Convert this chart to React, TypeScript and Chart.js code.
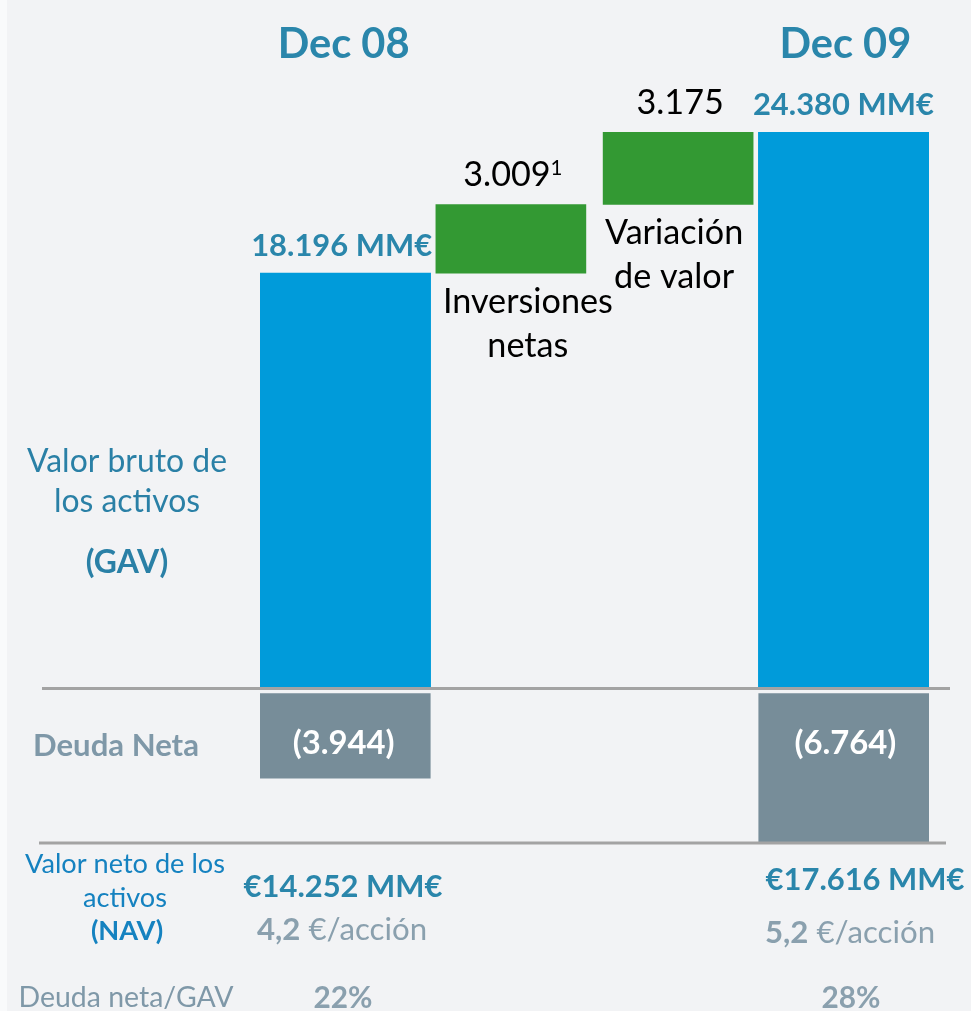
import React, { useEffect, useRef } from "react";
import { Chart, registerables } from "chart.js";

Chart.register(...registerables);

// ---------- data ----------
const categories: (string | string[])[] = ["Dec 08", ["Inversiones", "netas"], ["Variación", "de valor"], "Dec 09"];
const gavValues: (number | null)[] = [18196, null, null, 24380];
const changeValues: (number | null)[] = [null, 3009, 3175, null];
const changeFootnotes: string[] = ["", "1", "", ""];
const debtValues: (number | null)[] = [-3944, null, null, -6764];
const navPerShare: string[] = ["4,2", "5,2"];
const gavRowLabel: string[] = ["Valor bruto de", "los activos", "(GAV)"];
const debtRowLabel = "Deuda Neta";
const navRowLabel: string[] = ["Valor neto de los", "activos", "(NAV)"];
const ratioRowLabel = "Deuda neta/GAV";
const unit = "MM€";

// ---------- derived ----------
const changeRanges: ([number, number] | null)[] = (() => {
  let run = gavValues[0] as number;
  return changeValues.map((v) => {
    if (v == null) return null;
    const r: [number, number] = [run, run + v];
    run += v;
    return r;
  });
})();
const summaryCols = [0, 3];
const navValues = summaryCols.map((i) => (gavValues[i] as number) + (debtValues[i] as number));
const ratioValues = summaryCols.map((i) => Math.round((-(debtValues[i] as number) / (gavValues[i] as number)) * 100));
const yMin = Math.min(...(debtValues.filter((v) => v != null) as number[]));
const yMax = Math.max(...(gavValues.filter((v) => v != null) as number[]));

// ---------- style ----------
const FAMILY = "Lato, 'Noto Sans', sans-serif";
const BG = "#F2F3F5";
const BLUE = "#009BDA";
const GREEN = "#339933";
const GREY = "#778D99";
const TITLE = "#2A86AB";
const LEFT_BLUE = "#2A80A6";
const NAV_BLUE = "#1582C0";
const GREY_TEXT = "#7F98A8";
const GREY_LIGHT = "#8AA0AE";
const LINE = "#A3A3A3";

function fmt(n: number): string {
  return String(Math.abs(n)).replace(/\B(?=(\d{3})+(?!\d))/g, ".");
}

function fit(ctx: CanvasRenderingContext2D, s: string, width: number, weight: string): number {
  ctx.font = `${weight} 100px ${FAMILY}`;
  return (100 * width) / ctx.measureText(s).width;
}

function txt(ctx: CanvasRenderingContext2D, s: string, x: number, y: number, size: number, weight: string, color: string, align: CanvasTextAlign = "center") {
  ctx.font = `${weight} ${size}px ${FAMILY}`;
  ctx.fillStyle = color;
  ctx.textAlign = align;
  ctx.textBaseline = "alphabetic";
  ctx.fillText(s, x, y);
}

const bgPlugin = {
  id: "bgPlugin",
  beforeDraw(chart: any) {
    const ctx = chart.ctx as CanvasRenderingContext2D;
    ctx.save();
    ctx.fillStyle = BG;
    ctx.fillRect(0, 0, chart.width, chart.height);
    ctx.fillStyle = "#F9FAFB";
    ctx.fillRect(0, 0, 7, chart.height);
    ctx.restore();
  },
};

const annotatePlugin = {
  id: "annotatePlugin",
  afterDatasetsDraw(chart: any) {
    const ctx = chart.ctx as CanvasRenderingContext2D;
    const ys = chart.scales.y;
    const area = chart.chartArea;
    const y0 = ys.getPixelForValue(0);
    ctx.save();

    // reference lines
    ctx.strokeStyle = LINE;
    ctx.lineWidth = 3;
    ctx.beginPath();
    ctx.moveTo(42, y0);
    ctx.lineTo(950, y0);
    ctx.moveTo(39, area.bottom);
    ctx.lineTo(946, area.bottom);
    ctx.stroke();

    const sTitle = fit(ctx, "Dec 08", 132, "bold");
    const sValue = fit(ctx, "18.196 MM€", 181, "bold");
    const sBlack = fit(ctx, "Inversiones", 170, "normal");
    const sLeft = fit(ctx, gavRowLabel[0], 200, "normal");
    const sDeuda = fit(ctx, debtRowLabel, 166, "bold");
    const sDebtVal = fit(ctx, "(3.944)", 102, "bold");
    const sNavLeft = fit(ctx, navRowLabel[0], 200, "normal");
    const sShare = fit(ctx, "4,2 €/acción", 170, "normal");
    const sRatio = fit(ctx, ratioRowLabel, 215, "normal");
    const sPct = fit(ctx, "22%", 59, "bold");

    const gavMeta = chart.getDatasetMeta(0);
    const chgMeta = chart.getDatasetMeta(1);
    const debtMeta = chart.getDatasetMeta(2);

    // titles and GAV labels
    gavValues.forEach((v, i) => {
      if (v == null) return;
      const el = gavMeta.data[i];
      txt(ctx, String(categories[i]), el.x, 58, sTitle, "bold", TITLE);
      txt(ctx, `${fmt(v)} ${unit}`, el.x - 2, el.y - 17, sValue, "bold", TITLE);
    });

    // change bars: value above, category below
    changeValues.forEach((v, i) => {
      if (v == null) return;
      const el = chgMeta.data[i];
      const top = Math.min(el.y, el.base);
      const bottom = Math.max(el.y, el.base);
      const s = fmt(v);
      const note = changeFootnotes[i];
      ctx.font = `normal ${sBlack}px ${FAMILY}`;
      const w = ctx.measureText(s).width;
      const noteSize = sBlack * 0.6;
      ctx.font = `normal ${noteSize}px ${FAMILY}`;
      const nw = note ? ctx.measureText(note).width : 0;
      const left = note ? el.x + 2 - (w + nw) / 2 : el.x + 2 - w / 2;
      txt(ctx, s, left, top - 18, sBlack, "normal", "#000000", "left");
      if (note) txt(ctx, note, left + w, top - 29, noteSize, "normal", "#000000", "left");
      const lines = categories[i] as string[];
      const dx = i === 1 ? 17 : -4;
      lines.forEach((ln, k) => {
        txt(ctx, ln, el.x + dx, bottom + 40 + k * 44, sBlack, "normal", "#000000");
      });
    });

    // debt bar labels
    debtValues.forEach((v, i) => {
      if (v == null) return;
      const el = debtMeta.data[i];
      txt(ctx, `(${fmt(v)})`, el.x, 754, sDebtVal, "bold", "#FFFFFF");
    });

    // left row labels
    txt(ctx, gavRowLabel[0], 127, 472, sLeft, "normal", LEFT_BLUE);
    txt(ctx, gavRowLabel[1], 127, 512, sLeft, "normal", LEFT_BLUE);
    txt(ctx, gavRowLabel[2], 127, 573, sLeft, "bold", LEFT_BLUE);
    txt(ctx, debtRowLabel, 116, 756, sDeuda, "bold", GREY_TEXT);
    txt(ctx, navRowLabel[0], 125, 873, sNavLeft, "normal", NAV_BLUE);
    txt(ctx, navRowLabel[1], 125, 907, sNavLeft, "normal", NAV_BLUE);
    txt(ctx, navRowLabel[2], 127, 940, sNavLeft, "bold", NAV_BLUE);
    txt(ctx, ratioRowLabel, 126, 1007, sRatio, "normal", GREY_TEXT);

    // summary columns
    const navX = [343, 865];
    const navY = [897, 890];
    const shareX = [342, 850];
    const shareY = [940, 943];
    const pctX = [343, 851];
    navValues.forEach((v, k) => {
      txt(ctx, `€${fmt(v)} ${unit}`, navX[k], navY[k], sValue, "bold", TITLE);
      const a = navPerShare[k];
      const b = " €/acción";
      ctx.font = `bold ${sShare}px ${FAMILY}`;
      const wa = ctx.measureText(a).width;
      ctx.font = `normal ${sShare}px ${FAMILY}`;
      const wb = ctx.measureText(b).width;
      const start = shareX[k] - (wa + wb) / 2;
      txt(ctx, a, start, shareY[k], sShare, "bold", GREY_LIGHT, "left");
      txt(ctx, b, start + wa, shareY[k], sShare, "normal", GREY_LIGHT, "left");
      txt(ctx, `${ratioValues[k]}%`, pctX[k], 1008, sPct, "bold", GREY_LIGHT);
    });

    ctx.restore();
  },
};

export default function App() {
  const ref = useRef<HTMLCanvasElement | null>(null);
  useEffect(() => {
    document.body.style.margin = "0";
    document.body.style.background = BG;
    const canvas = ref.current;
    if (!canvas) return;
    const chart = new Chart(canvas, {
      type: "bar",
      data: {
        labels: categories,
        datasets: [
          { label: "GAV", data: gavValues, backgroundColor: BLUE, barThickness: 174, grouped: false } as any,
          { label: "Variación", data: changeRanges, backgroundColor: GREEN, barThickness: 150, grouped: false } as any,
          {
            label: "Deuda neta",
            data: debtValues,
            backgroundColor: GREY,
            barThickness: 174,
            grouped: false,
            borderSkipped: false,
            borderWidth: { top: 5, left: 0, right: 0, bottom: 0 },
            borderColor: BG,
          } as any,
        ],
      },
      options: {
        animation: false,
        responsive: false,
        devicePixelRatio: 1,
        layout: { padding: { top: 132, bottom: 168, left: 260, right: 42 } },
        scales: {
          x: { display: false },
          y: { display: false, min: yMin, max: yMax },
        },
        plugins: { legend: { display: false }, tooltip: { enabled: false } },
      },
      plugins: [bgPlugin, annotatePlugin],
    });
    return () => chart.destroy();
  }, []);
  return <canvas ref={ref} width={971} height={1011} style={{ display: "block", width: 971, height: 1011 }} />;
}
